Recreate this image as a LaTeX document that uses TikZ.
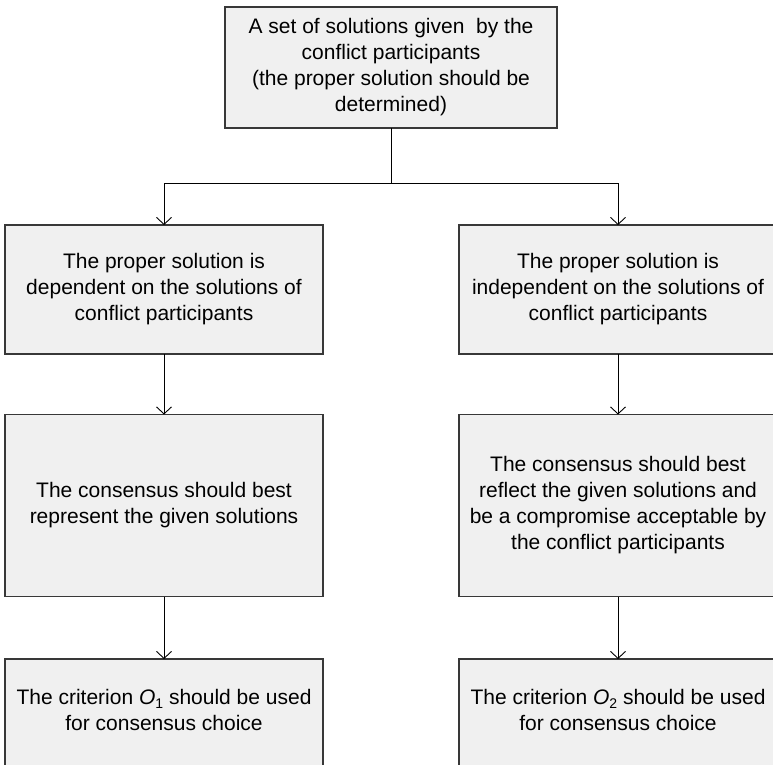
\documentclass[tikz,border=0pt]{standalone}
\usepackage{fontspec}
\setmainfont{Liberation Sans}
\usetikzlibrary{arrows.meta,calc}
\definecolor{boxfill}{HTML}{F0F0F0}
\definecolor{boxline}{HTML}{383838}
\newcommand{\crit}[1]{\textit{O}\raisebox{-4pt}{\fontsize{14}{14}\selectfont #1}}
\begin{document}
\begin{tikzpicture}[x=1pt,y=-1pt,
  stepbox/.style={draw=boxline,fill=boxfill,line width=1.3pt,rectangle,
    inner sep=0pt,outer sep=0pt,align=center,
    font=\fontsize{21}{26}\selectfont},
  txt/.style={align=center,font=\fontsize{21}{26}\selectfont,inner sep=0pt},
  link/.style={draw=black,line width=0.9pt},
  arr/.style={link,-{Straight Barb[length=7pt,width=15pt,line width=0.9pt]}}]
\useasboundingbox[fill=white] (0,0) rectangle (773,764);

% top box
\node[stepbox,minimum width=332,minimum height=121] (top) at (391,67.5)
  {A set of solutions given\ \ by the\\conflict participants\\(the proper solution should be\\determined)};

% second row
\node[stepbox,minimum width=318,minimum height=129] (l1) at (164,289.5)
  {The proper solution is\\dependent on the solutions of\\conflict participants};
\node[stepbox,minimum width=318,minimum height=129] (r1) at (618,289.5)
  {The proper solution is\\independent on the solutions of\\conflict participants};

% third row
\node[stepbox,minimum width=318,minimum height=182] (l2) at (164,505.5)
  {The consensus should best\\represent the given solutions};
\node[stepbox,minimum width=318,minimum height=182] (r2) at (618,505.5)
  {The consensus should best\\reflect the given solutions and\\be a compromise acceptable by\\the conflict participants};

% bottom row (runs off the lower edge)
\node[stepbox,minimum width=318,minimum height=110] (l3) at (164,714) {};
\node[stepbox,minimum width=318,minimum height=110] (r3) at (618,714) {};
\node[txt] (l3t) at ($(l3.north)+(0,51)$) {The criterion \crit{1} should be used\\for consensus choice};
\node[txt] (r3t) at ($(r3.north)+(0,51)$) {The criterion \crit{2} should be used\\for consensus choice};

% connectors
\coordinate (fork) at ($(top.south)+(0,55)$);
\draw[link] (top.south) -- (fork);
\draw[arr] (fork) -| (l1.north);
\draw[arr] (fork) -| (r1.north);
\draw[arr] (l1.south) -- (l2.north);
\draw[arr] (r1.south) -- (r2.north);
\draw[arr] (l2.south) -- (l3.north);
\draw[arr] (r2.south) -- (r3.north);
\end{tikzpicture}
\end{document}
